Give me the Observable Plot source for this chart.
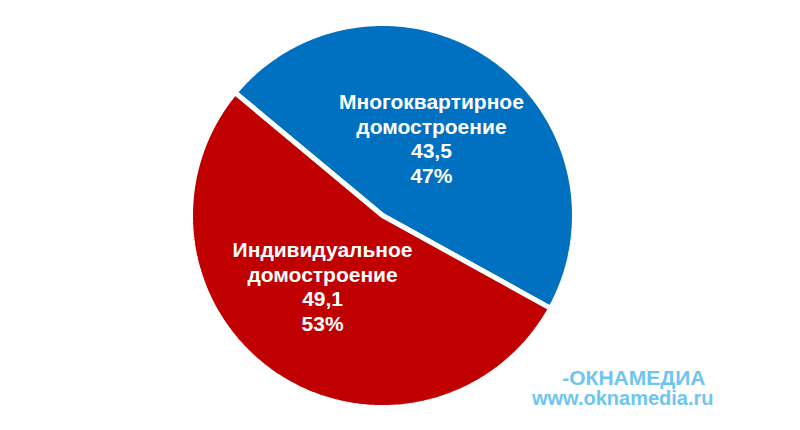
<!DOCTYPE html>
<html>
<head>
<meta charset="utf-8">
<script src="https://cdn.jsdelivr.net/npm/d3@7"></script>
<script src="https://cdn.jsdelivr.net/npm/@observablehq/plot@0.6"></script>
<style>
  html, body { margin: 0; padding: 0; background: #fff; }
  #chart { width: 800px; height: 430px; }
</style>
</head>
<body>
<div id="chart"></div>
<script>
const categories = ["Многоквартирное\nдомостроение", "Индивидуальное\nдомостроение"];
const values = [43.5, 49.1];
const colors = ["#0070C0", "#C00000"];
const startAngleDeg = -50.2;
const watermarkTitle = "ОКНАМЕДИА";
const watermarkUrl = "www.oknamedia.ru";

const total = d3.sum(values);
const rows = categories.map((c, i) => ({name: c, value: values[i]}));
const arcs = d3.pie().sort(null).value(d => d.value)
  .startAngle(startAngleDeg * Math.PI / 180)
  .endAngle(startAngleDeg * Math.PI / 180 + 2 * Math.PI)(rows);

const pts = [];
for (const a of arcs) {
  pts.push({name: a.data.name, x: 0, y: 0});
  const n = 240;
  for (let k = 0; k <= n; k++) {
    const t = a.startAngle + (a.endAngle - a.startAngle) * k / n;
    pts.push({name: a.data.name, x: Math.sin(t), y: Math.cos(t)});
  }
}

const labelR = 0.47;
const labels = arcs.map(a => {
  const m = (a.startAngle + a.endAngle) / 2;
  return {
    name: a.data.name,
    x: labelR * Math.sin(m),
    y: labelR * Math.cos(m),
    text: a.data.name + "\n" + String(a.data.value).replace(".", ",") + "\n" + Math.round(a.data.value / total * 100) + "%"
  };
});

const font = "Liberation Sans, Arial, sans-serif";
const chart = Plot.plot({
  width: 800,
  height: 430,
  margin: 0,
  x: {domain: [-1, 1], range: [190, 574], axis: null},
  y: {domain: [-1, 1], range: [407, 23], axis: null},
  color: {domain: categories, range: colors},
  style: {background: "#fff"},
  marks: [
    Plot.line(pts, {x: "x", y: "y", z: "name", fill: "name", stroke: "white", strokeWidth: 5, strokeLinejoin: "miter", curve: "linear-closed"}),
    Plot.text(labels.filter((d, i) => i === 0), {x: "x", y: "y", text: "text", fill: "white", fontSize: 21, fontWeight: "bold", lineHeight: 1.17, fontFamily: font, dx: -2, dy: -3}),
    Plot.text(labels.filter((d, i) => i === 1), {x: "x", y: "y", text: "text", fill: "white", fontSize: 21, fontWeight: "bold", lineHeight: 1.17, fontFamily: font, dx: -9, dy: -4}),
    Plot.text([watermarkTitle], {frameAnchor: "bottom-right", text: d => "-" + d, dx: -95, dy: -46, textAnchor: "end", fill: "#6ec6f0", fontSize: 21, fontWeight: "bold", fontFamily: font, letterSpacing: 3}),
    Plot.text([watermarkUrl], {frameAnchor: "bottom-right", text: d => d, dx: -87, dy: -26, textAnchor: "end", fill: "#6ec6f0", fontSize: 20, fontWeight: "bold", fontFamily: font})
  ]
});
document.getElementById("chart").appendChild(chart);
</script>
</body>
</html>
